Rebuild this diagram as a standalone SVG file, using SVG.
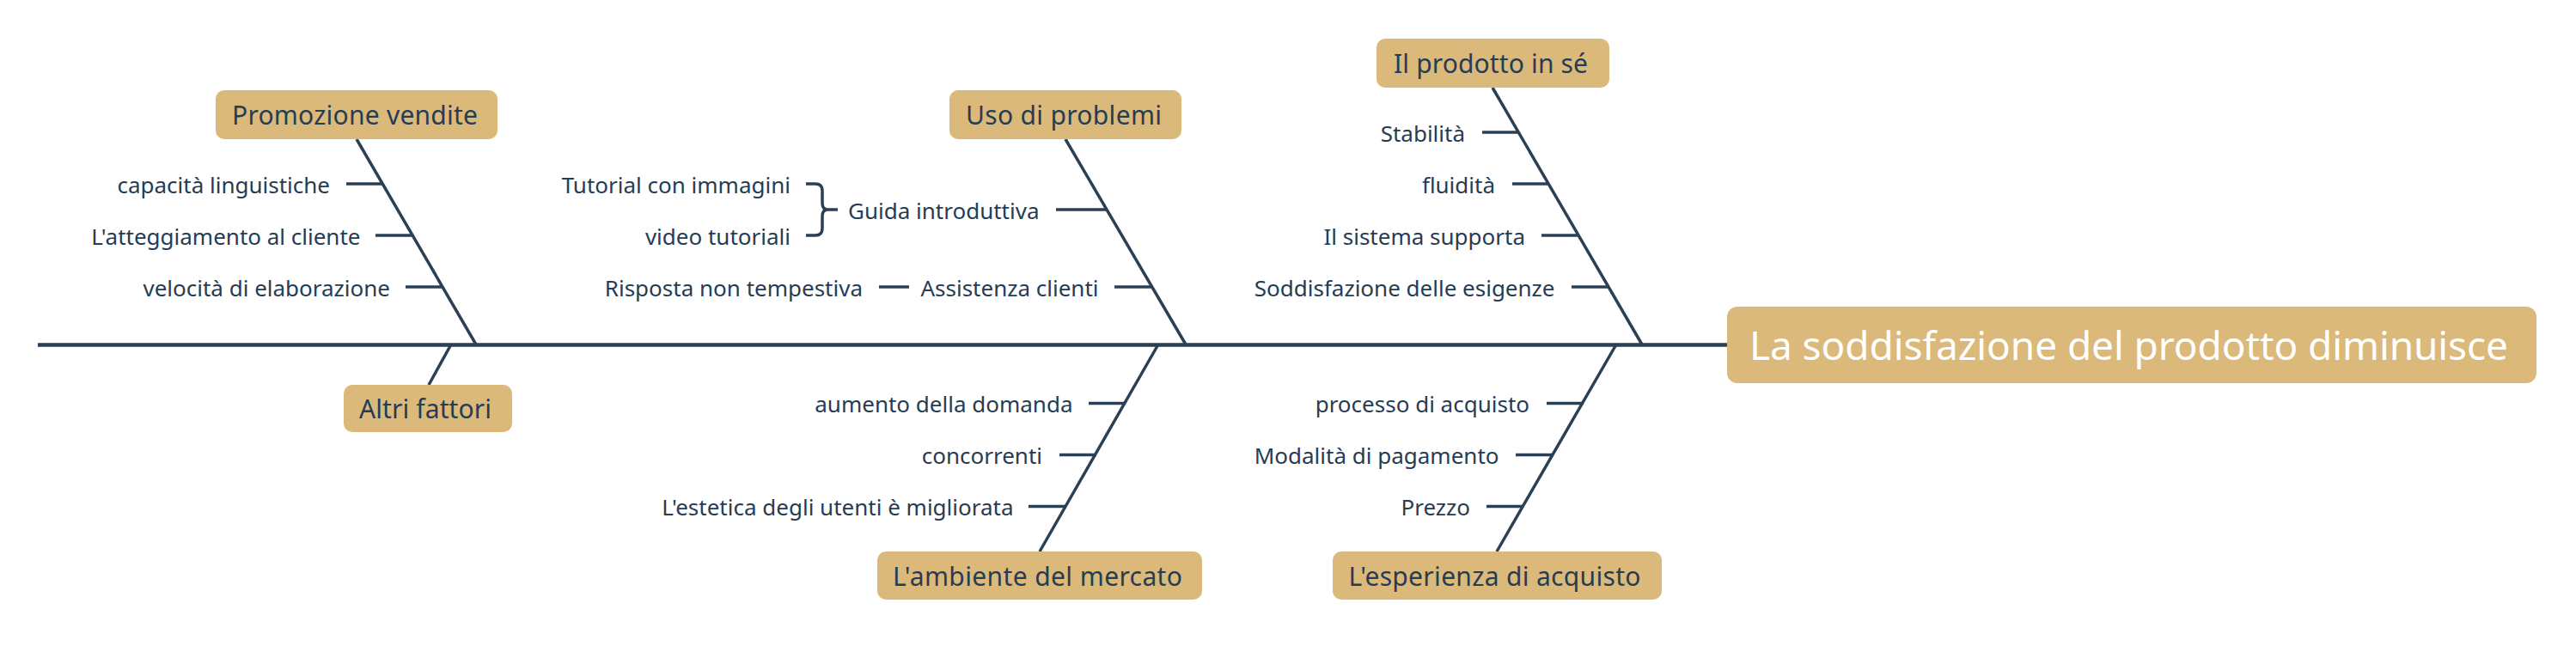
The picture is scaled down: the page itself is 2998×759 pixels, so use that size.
<svg xmlns="http://www.w3.org/2000/svg" width="2998" height="759" viewBox="0 0 2998 759">
<style>
.bg{fill:#ffffff}
.box{fill:#dbb97a}
.ln{stroke:#2b3f55;stroke-width:3.5;fill:none;stroke-linecap:butt}
.spine{stroke:#2b3f55;stroke-width:4.5;fill:none}
.cat{font-family:"Noto Sans","Liberation Sans",sans-serif;font-size:30px;fill:#263c55}
.leaf{font-family:"Noto Sans","Liberation Sans",sans-serif;font-size:26px;fill:#263c55}
.main{font-family:"Noto Sans","Liberation Sans",sans-serif;font-size:46px;fill:#ffffff}
</style>
<rect class="bg" x="0" y="0" width="2998" height="759"/>
<g id="connectors">
<line class="spine" x1="44" y1="401.5" x2="2012" y2="401.5"/>
<!-- Promozione vendite -->
<line class="ln" x1="415" y1="162" x2="554" y2="401"/>
<line class="ln" x1="403" y1="214" x2="445" y2="214"/>
<line class="ln" x1="437" y1="274" x2="480" y2="274"/>
<line class="ln" x1="472" y1="334" x2="515" y2="334"/>
<!-- Altri fattori -->
<line class="ln" x1="525" y1="401" x2="499" y2="448"/>
<!-- Uso di problemi -->
<line class="ln" x1="1240" y1="162" x2="1380" y2="401"/>
<line class="ln" x1="1229" y1="244" x2="1288" y2="244"/>
<line class="ln" x1="1297" y1="334" x2="1341" y2="334"/>
<line class="ln" x1="1023" y1="334" x2="1058" y2="334"/>
<path class="ln" d="M938,214 H949 Q957,214 957,222 V236 Q957,244 963,244 Q957,244 957,252 V266 Q957,274 949,274 H938 M963,244 H975"/>
<!-- Il prodotto in sé -->
<line class="ln" x1="1737" y1="102" x2="1911" y2="401"/>
<line class="ln" x1="1725" y1="154" x2="1768" y2="154"/>
<line class="ln" x1="1760" y1="214" x2="1803" y2="214"/>
<line class="ln" x1="1794" y1="274" x2="1838" y2="274"/>
<line class="ln" x1="1829" y1="334" x2="1872" y2="334"/>
<!-- L'ambiente del mercato -->
<line class="ln" x1="1348" y1="401" x2="1210" y2="642"/>
<line class="ln" x1="1267" y1="469.5" x2="1310" y2="469.5"/>
<line class="ln" x1="1233" y1="529.5" x2="1276" y2="529.5"/>
<line class="ln" x1="1197" y1="589.5" x2="1241" y2="589.5"/>
<!-- L'esperienza di acquisto -->
<line class="ln" x1="1881" y1="401" x2="1742" y2="642"/>
<line class="ln" x1="1800" y1="469.5" x2="1843" y2="469.5"/>
<line class="ln" x1="1764" y1="529.5" x2="1808" y2="529.5"/>
<line class="ln" x1="1730" y1="589.5" x2="1773" y2="589.5"/>
</g>
<g id="main">
<rect class="box" x="2010" y="357" width="942" height="89" rx="12"/>
<text class="main" x="2036" y="419" textLength="883">La soddisfazione del prodotto diminuisce</text>
</g>
<g id="promozione-vendite">
<rect class="box" x="251" y="105" width="328" height="57" rx="10"/>
<text class="cat" x="270" y="145" textLength="286">Promozione vendite</text>
</g>
<g id="capacita-linguistiche"><text class="leaf" x="384" y="224.5" text-anchor="end">capacità linguistiche</text></g>
<g id="atteggiamento"><text class="leaf" x="419.5" y="284.5" text-anchor="end">L'atteggiamento al cliente</text></g>
<g id="velocita"><text class="leaf" x="454" y="344.5" text-anchor="end">velocità di elaborazione</text></g>
<g id="altri-fattori">
<rect class="box" x="400" y="448" width="196" height="55" rx="10"/>
<text class="cat" x="418" y="487" textLength="154">Altri fattori</text>
</g>
<g id="uso-di-problemi">
<rect class="box" x="1105" y="105" width="270" height="57" rx="10"/>
<text class="cat" x="1124" y="145" textLength="228">Uso di problemi</text>
</g>
<g id="guida-introduttiva"><text class="leaf" x="1209.5" y="254.5" text-anchor="end">Guida introduttiva</text></g>
<g id="tutorial-immagini"><text class="leaf" x="920" y="224.5" text-anchor="end">Tutorial con immagini</text></g>
<g id="video-tutoriali"><text class="leaf" x="920" y="284.5" text-anchor="end">video tutoriali</text></g>
<g id="assistenza-clienti"><text class="leaf" x="1278.5" y="344.5" text-anchor="end">Assistenza clienti</text></g>
<g id="risposta"><text class="leaf" x="1004" y="344.5" text-anchor="end">Risposta non tempestiva</text></g>
<g id="il-prodotto-in-se">
<rect class="box" x="1602" y="45" width="271" height="57" rx="10"/>
<text class="cat" x="1622" y="85" textLength="226">Il prodotto in sé</text>
</g>
<g id="stabilita"><text class="leaf" x="1705" y="164.5" text-anchor="end">Stabilità</text></g>
<g id="fluidita"><text class="leaf" x="1740" y="224.5" text-anchor="end">fluidità</text></g>
<g id="sistema-supporta"><text class="leaf" x="1775" y="284.5" text-anchor="end">Il sistema supporta</text></g>
<g id="soddisfazione-esigenze"><text class="leaf" x="1809.5" y="344.5" text-anchor="end">Soddisfazione delle esigenze</text></g>
<g id="ambiente-mercato">
<rect class="box" x="1021" y="642" width="378" height="56" rx="10"/>
<text class="cat" x="1039" y="682" textLength="337">L'ambiente del mercato</text>
</g>
<g id="aumento-domanda"><text class="leaf" x="1248.5" y="480" text-anchor="end">aumento della domanda</text></g>
<g id="concorrenti"><text class="leaf" x="1213" y="540" text-anchor="end">concorrenti</text></g>
<g id="estetica"><text class="leaf" x="1179.5" y="600" text-anchor="end">L'estetica degli utenti è migliorata</text></g>
<g id="esperienza-acquisto">
<rect class="box" x="1551" y="642" width="383" height="56" rx="10"/>
<text class="cat" x="1569.5" y="682" textLength="340">L'esperienza di acquisto</text>
</g>
<g id="processo-acquisto"><text class="leaf" x="1780" y="480" text-anchor="end">processo di acquisto</text></g>
<g id="modalita-pagamento"><text class="leaf" x="1744.5" y="540" text-anchor="end">Modalità di pagamento</text></g>
<g id="prezzo"><text class="leaf" x="1711" y="600" text-anchor="end">Prezzo</text></g>
</svg>
